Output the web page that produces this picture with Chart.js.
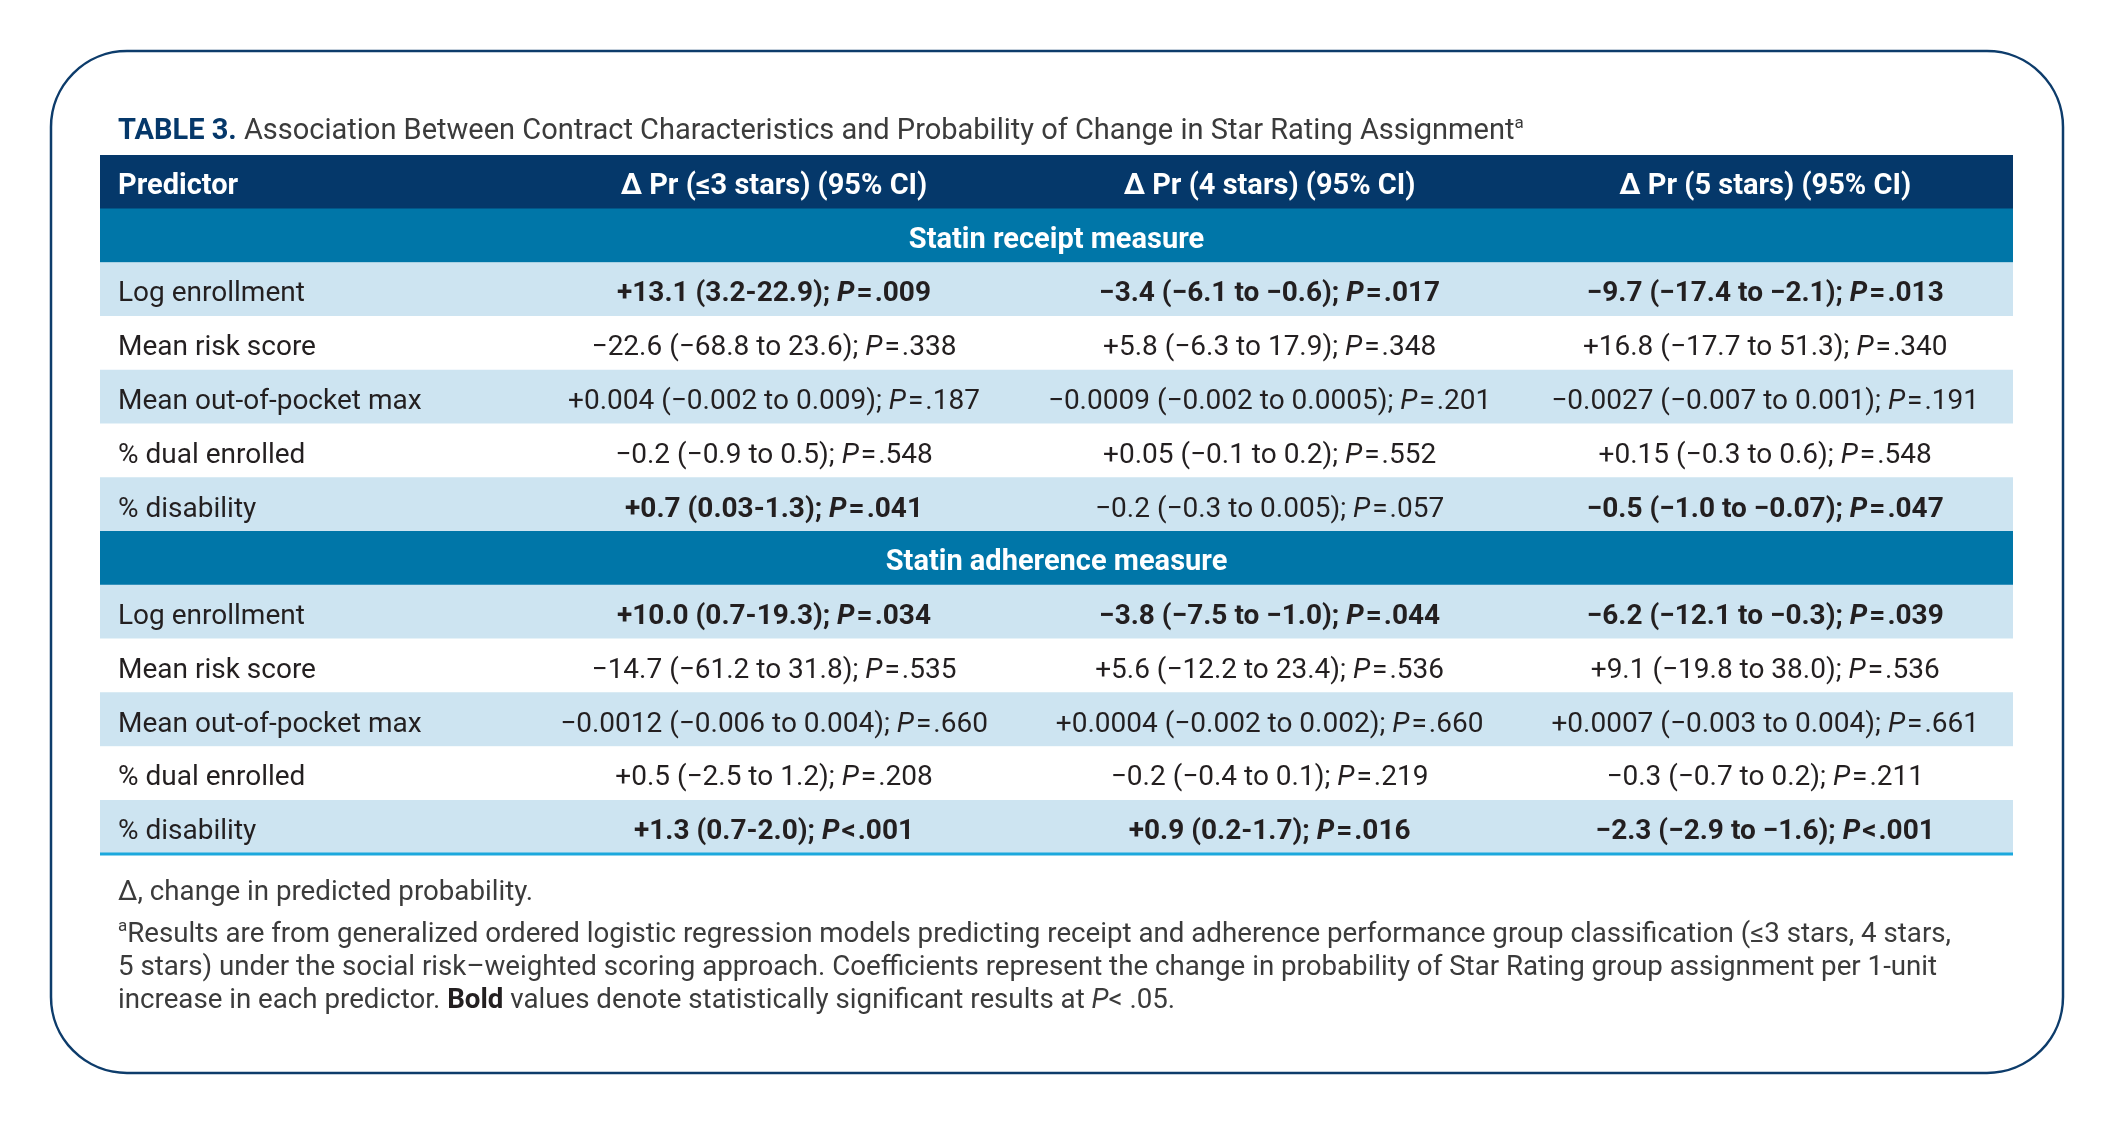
<!DOCTYPE html>
<html>
<head>
<meta charset="utf-8">
<title>Table 3</title>
<script src="https://cdn.jsdelivr.net/npm/chart.js@4.4.0/dist/chart.umd.min.js"></script>
<style>
  html, body { margin: 0; padding: 0; background: #fff; }
  #wrap { width: 2113px; height: 1125px; position: relative; }
</style>
</head>
<body>
<div id="wrap"><canvas id="table3"></canvas></div>
<script>
// ---- table content ----
const columns = ['Δ Pr (≤3 stars) (95% CI)', 'Δ Pr (4 stars) (95% CI)', 'Δ Pr (5 stars) (95% CI)'];
const sections = ['Statin receipt measure', 'Statin adherence measure'];
const predictors = ['Log enrollment', 'Mean risk score', 'Mean out-of-pocket max', '% dual enrolled', '% disability'];

const receiptLe3 = ['+13.1 (3.2-22.9); P=.009', '−22.6 (−68.8 to 23.6); P=.338', '+0.004 (−0.002 to 0.009); P=.187', '−0.2 (−0.9 to 0.5); P=.548', '+0.7 (0.03-1.3); P=.041'];
const receipt4 = ['−3.4 (−6.1 to −0.6); P=.017', '+5.8 (−6.3 to 17.9); P=.348', '−0.0009 (−0.002 to 0.0005); P=.201', '+0.05 (−0.1 to 0.2); P=.552', '−0.2 (−0.3 to 0.005); P=.057'];
const receipt5 = ['−9.7 (−17.4 to −2.1); P=.013', '+16.8 (−17.7 to 51.3); P=.340', '−0.0027 (−0.007 to 0.001); P=.191', '+0.15 (−0.3 to 0.6); P=.548', '−0.5 (−1.0 to −0.07); P=.047'];

const adherenceLe3 = ['+10.0 (0.7-19.3); P=.034', '−14.7 (−61.2 to 31.8); P=.535', '−0.0012 (−0.006 to 0.004); P=.660', '+0.5 (−2.5 to 1.2); P=.208', '+1.3 (0.7-2.0); P<.001'];
const adherence4 = ['−3.8 (−7.5 to −1.0); P=.044', '+5.6 (−12.2 to 23.4); P=.536', '+0.0004 (−0.002 to 0.002); P=.660', '−0.2 (−0.4 to 0.1); P=.219', '+0.9 (0.2-1.7); P=.016'];
const adherence5 = ['−6.2 (−12.1 to −0.3); P=.039', '+9.1 (−19.8 to 38.0); P=.536', '+0.0007 (−0.003 to 0.004); P=.661', '−0.3 (−0.7 to 0.2); P=.211', '−2.3 (−2.9 to −1.6); P<.001'];

const titleLabel = 'TABLE 3.';
const titleText = ' Association Between Contract Characteristics and Probability of Change in Star Rating Assignment';
const footDelta = 'Δ, change in predicted probability.';
const footLines = [
  'Results are from generalized ordered logistic regression models predicting receipt and adherence performance group classification (≤3 stars, 4 stars,',
  '5 stars) under the social risk–weighted scoring approach. Coefficients represent the change in probability of Star Rating group assignment per 1-unit'
];

// ---- styling / layout ----
const NAVY = '#05386a';
const TEAL = '#0076a8';
const LIGHT = '#cde4f1';
const RULE = '#1ba8dd';
const INK = '#231f20';
const GRAY = '#3b3b3b';
const FONT = 'Roboto';
const BODY = 28, HEAD = 29, TITLE = 29, FOOT = 27.7;

// x axis in column units: predictor column is narrower than the three value columns
const X_MIN = 0, X_MAX = 3.86;
const colCenters = [1.36, 2.36, 3.36];

// rows built from the arrays above
const rows = [{ type: 'header' }];
[[receiptLe3, receipt4, receipt5], [adherenceLe3, adherence4, adherence5]].forEach((group, s) => {
  rows.push({ type: 'section', label: sections[s] });
  predictors.forEach((p, i) => {
    rows.push({ type: 'data', label: p, cells: group.map(col => col[i]), shade: i % 2 === 0 });
  });
});

function rowColor(r) {
  if (r.type === 'header') return NAVY;
  if (r.type === 'section') return TEAL;
  return r.shade ? LIGHT : '#ffffff';
}

// bold = statistically significant at P < .05 (as stated in the footnote)
function isSignificant(cell) {
  const m = cell.match(/P([=<])\.(\d+)/);
  if (!m) return false;
  return m[1] === '<' || parseFloat('0.' + m[2]) < 0.05;
}

function drawRuns(ctx, runs, x, y, align) {
  const parts = runs.map(r => {
    const size = r.sup ? Math.round(r.size * 0.6) : r.size;
    const font = (r.italic ? 'italic ' : '') + (r.bold ? '700 ' : '400 ') + size + 'px ' + FONT;
    ctx.font = font;
    return Object.assign({}, r, { font: font, w: ctx.measureText(r.text).width + (r.gap || 0) });
  });
  const total = parts.reduce((s, p) => s + p.w, 0);
  let cx = align === 'center' ? x - total / 2 : x;
  ctx.textAlign = 'left';
  ctx.textBaseline = 'alphabetic';
  parts.forEach(p => {
    ctx.font = p.font;
    ctx.fillStyle = p.color;
    ctx.fillText(p.text, cx + (p.gap || 0), y - (p.sup ? p.size * 0.38 : 0));
    cx += p.w;
  });
}

function cellRuns(cell, size) {
  const bold = isSignificant(cell);
  const m = cell.match(/^(.*; )P(.)(.*)$/);
  return [
    { text: m[1], size: size, bold: bold, color: INK },
    { text: 'P', size: size, bold: bold, italic: true, color: INK },
    { text: m[2], size: size, bold: bold, color: INK, gap: 2 },
    { text: m[3], size: size, bold: bold, color: INK, gap: 2 }
  ];
}

const tablePlugin = {
  id: 'tableText',
  beforeDraw(chart) {
    const ctx = chart.ctx;
    // rounded frame
    ctx.save();
    ctx.strokeStyle = '#0d3c6b';
    ctx.lineWidth = 2.5;
    ctx.beginPath();
    ctx.roundRect(51, 51, 2012, 1022, 76);
    ctx.stroke();
    ctx.restore();
  },
  afterDatasetsDraw(chart) {
    const ctx = chart.ctx;
    const xs = chart.scales.x, ys = chart.scales.y;
    const area = chart.chartArea;
    const leftText = area.left + 18;
    const midX = (area.left + area.right) / 2;
    ctx.save();

    rows.forEach((r, i) => {
      const cy = ys.getPixelForValue(i);
      const base = cy + 12;
      if (r.type === 'header') {
        drawRuns(ctx, [{ text: 'Predictor', size: HEAD, bold: true, color: '#fff' }], leftText, base, 'left');
        columns.forEach((c, j) => {
          drawRuns(ctx, [{ text: c, size: HEAD, bold: true, color: '#fff' }], xs.getPixelForValue(colCenters[j]), base, 'center');
        });
      } else if (r.type === 'section') {
        drawRuns(ctx, [{ text: r.label, size: HEAD, bold: true, color: '#fff' }], midX, base, 'center');
      } else {
        drawRuns(ctx, [{ text: r.label, size: BODY, color: INK }], leftText, base, 'left');
        r.cells.forEach((c, j) => {
          drawRuns(ctx, cellRuns(c, BODY), xs.getPixelForValue(colCenters[j]), base, 'center');
        });
      }
    });

    // bottom rule
    ctx.strokeStyle = RULE;
    ctx.lineWidth = 3;
    ctx.beginPath();
    ctx.moveTo(area.left, area.bottom);
    ctx.lineTo(area.right, area.bottom);
    ctx.stroke();

    // title
    drawRuns(ctx, [
      { text: titleLabel, size: TITLE, bold: true, color: NAVY },
      { text: titleText, size: TITLE, color: GRAY },
      { text: 'a', size: TITLE, sup: true, color: GRAY }
    ], leftText, area.top - 16, 'left');

    // footnotes
    const fy = area.bottom + 46;
    drawRuns(ctx, [{ text: footDelta, size: FOOT, color: GRAY }], leftText, fy, 'left');
    drawRuns(ctx, [
      { text: 'a', size: FOOT, sup: true, color: GRAY },
      { text: footLines[0], size: FOOT, color: GRAY }
    ], leftText, fy + 42, 'left');
    drawRuns(ctx, [{ text: footLines[1], size: FOOT, color: GRAY }], leftText, fy + 75, 'left');
    drawRuns(ctx, [
      { text: 'increase in each predictor. ', size: FOOT, color: GRAY },
      { text: 'Bold', size: FOOT, bold: true, color: INK },
      { text: ' values denote statistically significant results at ', size: FOOT, color: GRAY },
      { text: 'P', size: FOOT, italic: true, color: GRAY },
      { text: '< .05.', size: FOOT, color: GRAY }
    ], leftText, fy + 108, 'left');

    ctx.restore();
  }
};

new Chart(document.getElementById('table3'), {
  type: 'bar',
  data: {
    labels: rows.map((r, i) => 'row' + i),
    datasets: [{
      data: rows.map(() => [X_MIN, X_MAX]),
      backgroundColor: rows.map(rowColor),
      borderWidth: 0,
      barPercentage: 1,
      categoryPercentage: 1
    }]
  },
  options: {
    indexAxis: 'y',
    responsive: true,
    maintainAspectRatio: false,
    animation: false,
    events: [],
    layout: { padding: { left: 100, right: 100, top: 155, bottom: 271 } },
    scales: {
      x: { type: 'linear', min: X_MIN, max: X_MAX, display: false },
      y: { display: false }
    },
    plugins: { legend: { display: false }, tooltip: { enabled: false } }
  },
  plugins: [tablePlugin]
});
</script>
</body>
</html>
